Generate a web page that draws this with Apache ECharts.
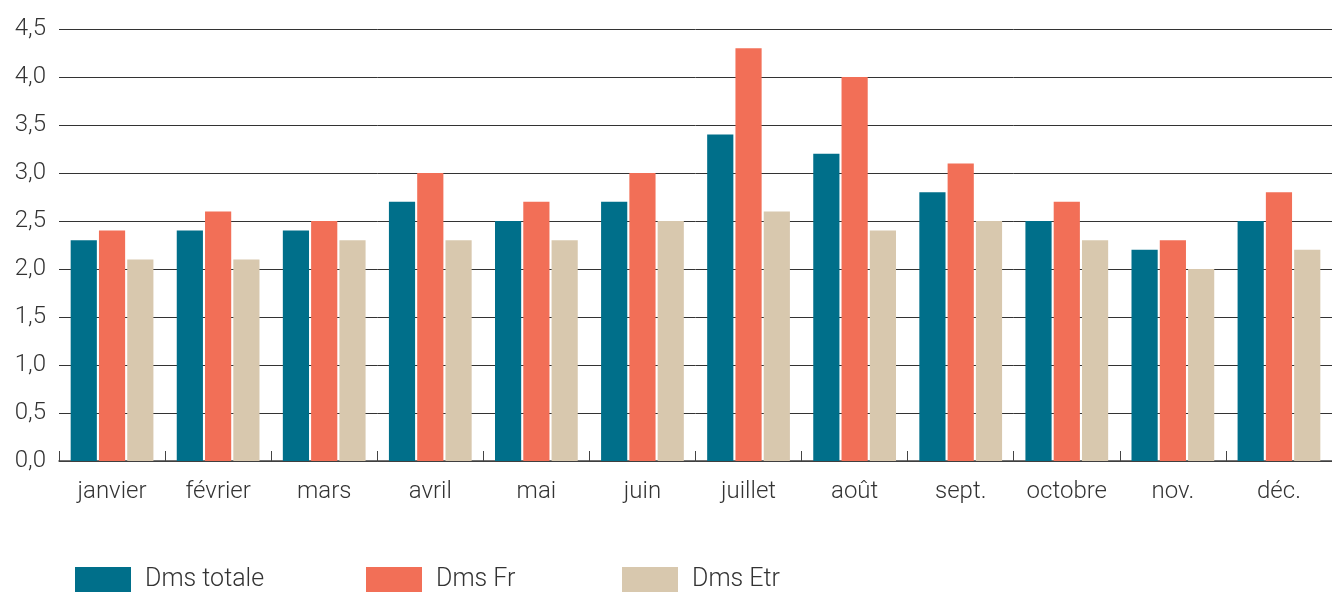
<!DOCTYPE html>
<html>
<head>
<meta charset="utf-8">
<script src="https://cdn.jsdelivr.net/npm/echarts@6/dist/echarts.min.js"></script>
<style>
html,body{margin:0;padding:0;background:#fff;}
#chart{width:1332px;height:595px;}
</style>
</head>
<body>
<div id="chart"></div>
<script>
const categories = ['janvier','février','mars','avril','mai','juin','juillet','août','sept.','octobre','nov.','déc.'];
const dmsTotale = [2.3, 2.4, 2.4, 2.7, 2.5, 2.7, 3.4, 3.2, 2.8, 2.5, 2.2, 2.5];
const dmsFr = [2.4, 2.6, 2.5, 3.0, 2.7, 3.0, 4.3, 4.0, 3.1, 2.7, 2.3, 2.8];
const dmsEtr = [2.1, 2.1, 2.3, 2.3, 2.3, 2.5, 2.6, 2.4, 2.5, 2.3, 2.0, 2.2];
const seriesNames = ['Dms totale', 'Dms Fr', 'Dms Etr'];
const colors = ['#006F8A', '#F26F57', '#D8C8AE'];

const chart = echarts.init(document.getElementById('chart'));
const font = 'Roboto';
const legendLefts = [70, 361, 617];
chart.setOption({
  animation: false,
  color: colors,
  textStyle: { fontFamily: font },
  grid: { left: 59, right: 0, top: 29, bottom: 134, containLabel: false },
  legend: seriesNames.map((n, i) => ({
    data: [n],
    left: legendLefts[i],
    top: 562,
    itemWidth: 56,
    itemHeight: 25,
    itemGap: 10,
    textStyle: { fontSize: 25, fontWeight: 300, color: '#333', fontFamily: font, padding: [5,0,0,9] },
    icon: 'rect'
  })),
  xAxis: {
    type: 'category',
    data: categories,
    axisLine: { lineStyle: { color: '#444', width: 1.5 } },
    axisTick: { show: true, inside: true, length: 10, lineStyle: { color: '#444' } },
    axisLabel: { fontSize: 24, fontWeight: 300, color: '#333', margin: 19, fontFamily: font }
  },
  yAxis: {
    type: 'value',
    min: 0, max: 4.5, interval: 0.5,
    axisLine: { show: false },
    axisTick: { show: false },
    axisLabel: {
      fontSize: 24, fontWeight: 300, color: '#333', margin: 13, fontFamily: font,
      formatter: v => v.toFixed(1).replace('.', ',')
    },
    splitLine: { lineStyle: { color: '#333', width: 1 } }
  },
  series: [dmsTotale, dmsFr, dmsEtr].map((d, i) => ({
    name: seriesNames[i],
    type: 'bar',
    data: d,
    barGap: '8%',
    barCategoryGap: '22%'
  }))
});
</script>
</body>
</html>
